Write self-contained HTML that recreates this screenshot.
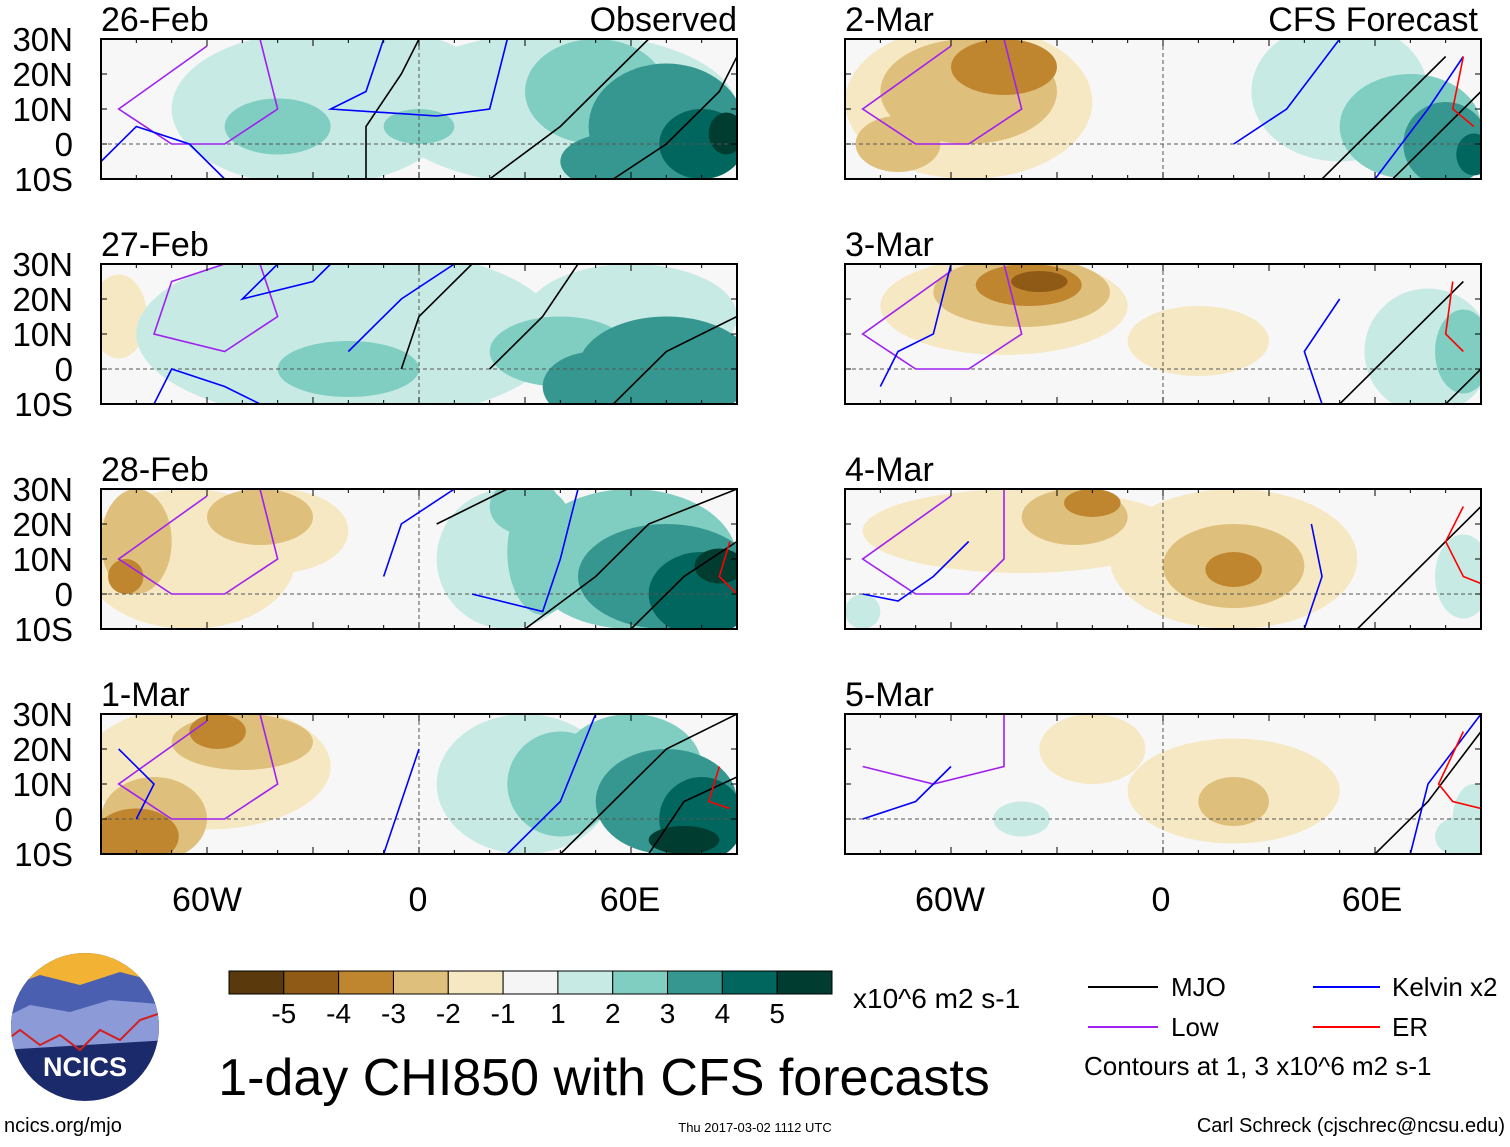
<!DOCTYPE html>
<html><head><meta charset="utf-8"><style>
body{margin:0;background:#fff;font-family:"Liberation Sans",sans-serif}
svg text{font-family:"Liberation Sans",sans-serif}
</style></head><body>
<svg id="fig" width="1510" height="1142" viewBox="0 0 1510 1142" xmlns="http://www.w3.org/2000/svg">
<g id="panels"></g>
<g id="static">
 <text x="207" y="911" font-size="34" text-anchor="middle">60W</text>
 <text x="418" y="911" font-size="34" text-anchor="middle">0</text>
 <text x="630" y="911" font-size="34" text-anchor="middle">60E</text>
 <text x="950" y="911" font-size="34" text-anchor="middle">60W</text>
 <text x="1161" y="911" font-size="34" text-anchor="middle">0</text>
 <text x="1372" y="911" font-size="34" text-anchor="middle">60E</text>
 <text x="737" y="31" font-size="34" text-anchor="end">Observed</text>
 <text x="1478" y="31" font-size="34" text-anchor="end">CFS Forecast</text>
 <g id="colorbar"></g>
 <text x="853" y="1008" font-size="28">x10^6 m2 s-1</text>
 <text x="604" y="1095" font-size="52" text-anchor="middle">1-day CHI850 with CFS forecasts</text>
 <g font-size="26">
  <line x1="1088" y1="987" x2="1158" y2="987" stroke="#000" stroke-width="2"/><text x="1171" y="996">MJO</text>
  <line x1="1313" y1="987" x2="1380" y2="987" stroke="#0000ff" stroke-width="2"/><text x="1392" y="996">Kelvin x2</text>
  <line x1="1088" y1="1027" x2="1158" y2="1027" stroke="#a020f0" stroke-width="2"/><text x="1171" y="1036">Low</text>
  <line x1="1313" y1="1027" x2="1380" y2="1027" stroke="#ff0000" stroke-width="2"/><text x="1392" y="1036">ER</text>
  <text x="1084" y="1075">Contours at 1, 3 x10^6 m2 s-1</text>
 </g>
 <text x="4" y="1132" font-size="20">ncics.org/mjo</text>
 <text x="755" y="1132" font-size="13" text-anchor="middle">Thu 2017-03-02 1112 UTC</text>
 <text x="1505" y="1132" font-size="20" text-anchor="end">Carl Schreck (cjschrec@ncsu.edu)</text>
 <g>
  <clipPath id="lc"><circle cx="85" cy="1027" r="74"/></clipPath>
  <g clip-path="url(#lc)">
   <rect x="0" y="950" width="170" height="160" fill="#1a2a6a"/>
   <rect x="0" y="950" width="170" height="40" fill="#f2b233"/>
   <path d="M0 990 L40 975 L80 985 L120 972 L170 985 L170 1010 L0 1030Z" fill="#4a5fb0"/>
   <path d="M0 1020 L30 1005 L70 1012 L110 1000 L170 1005 L170 1040 L0 1050Z" fill="#8d9ad8"/>
   <path d="M0 1045 L20 1030 L40 1045 L60 1035 L80 1050 L100 1030 L120 1040 L140 1020 L170 1010" stroke="#d02020" stroke-width="2" fill="none"/>
  </g>
  <text x="85" y="1076" font-size="27" font-weight="bold" fill="#fff" text-anchor="middle">NCICS</text>
 </g>
</g>
</svg>
<script>
const levelValues=[-5,-4,-3,-2,-1,0,1,2,3,4,5];
const levelColors=["#5a390d","#8f5a16","#c0862f","#dfbf7c","#f6e8c3","#f5f5f5","#c7eae4","#80cdc1","#35978f","#01665e","#003c30"];
const colorbarLabels=["-5","-4","-3","-2","-1","1","2","3","4","5"];
const panelDates=["26-Feb","27-Feb","28-Feb","1-Mar","2-Mar","3-Mar","4-Mar","5-Mar"];
const latTicks=["30N","20N","10N","0","10S"];
// blobs: [lon, lat, radiusLon, radiusLat, level]
const blobs0=[[-30,10,40,22,1],[40,10,50,22,1],[-10,22,25,10,1],[-40,5,15,8,2],[50,15,20,15,2],[0,5,10,5,2],[70,5,22,18,3],[55,-5,15,8,3],[80,0,12,10,4],[87,3,5,6,5]];
const blobs1=[[-85,15,8,12,-1],[-20,10,60,25,1],[60,15,30,15,1],[40,5,20,10,2],[-20,0,20,8,2],[70,0,25,15,3],[50,-5,15,10,3]];
const blobs2=[[-65,10,30,20,-1],[-40,18,20,12,-1],[-45,22,15,8,-2],[-80,15,10,15,-2],[-83,5,5,5,-3],[25,10,20,20,1],[35,12,10,18,2],[30,25,10,8,2],[60,10,30,20,2],[70,5,25,15,3],[80,0,15,12,4],[85,8,7,5,5]];
const blobs3=[[-60,15,35,18,-1],[-50,22,20,8,-2],[-75,0,15,12,-2],[-80,-5,12,8,-3],[-57,25,8,5,-3],[30,10,25,20,1],[40,10,15,15,2],[60,15,20,15,2],[70,5,20,15,3],[80,0,12,12,4],[75,-6,10,4,5]];
const blobs4=[[-55,12,35,22,-1],[-55,15,25,15,-2],[-45,22,15,8,-3],[-75,0,12,8,-2],[50,15,25,20,1],[70,5,20,15,2],[80,0,12,12,3],[88,-3,5,6,4]];
const blobs5=[[-45,18,35,14,-1],[-40,22,25,10,-2],[-38,24,15,6,-3],[-35,25,8,3,-4],[10,8,20,10,-1],[75,5,18,18,1],[85,5,8,12,2]];
const blobs6=[[-40,18,45,12,-1],[20,10,35,20,-1],[-25,22,15,8,-2],[20,8,20,12,-2],[-20,26,8,4,-3],[20,7,8,5,-3],[85,5,8,12,1],[-85,-5,5,5,1]];
const blobs7=[[-20,20,15,10,-1],[20,8,30,15,-1],[20,5,10,7,-2],[-40,0,8,5,1],[88,0,6,10,1],[85,-5,8,6,1]];
const allBlobs=[blobs0,blobs1,blobs2,blobs3,blobs4,blobs5,blobs6,blobs7];
// contour lines: [type, [[lon,lat],...]]
const lines0=[["mjo",[[-15,-10],[-15,5],[-5,20],[0,30]]],["mjo",[[20,-10],[40,5],[55,20],[65,30]]],["mjo",[[55,-10],[70,0],[85,15],[90,25]]],["low",[[-45,30],[-40,10],[-55,0],[-70,0],[-85,10],[-60,28]]],["kel",[[-90,-5],[-80,5],[-65,0],[-55,-10]]],["kel",[[-10,30],[-15,15],[-25,10],[5,8],[20,10],[25,30]]]];
const lines1=[["mjo",[[-5,0],[0,15],[15,30]]],["mjo",[[20,0],[35,15],[45,30]]],["mjo",[[55,-10],[70,5],[90,15]]],["low",[[-45,30],[-40,15],[-55,5],[-75,10],[-70,25],[-55,30]]],["kel",[[-40,30],[-50,20],[-30,25],[-25,30]]],["kel",[[-20,5],[-5,20],[10,30]]],["kel",[[-75,-10],[-70,0],[-55,-5],[-45,-10]]]];
const lines2=[["mjo",[[30,-10],[50,5],[65,20],[90,30]]],["mjo",[[60,-10],[75,5],[90,15]]],["mjo",[[5,20],[25,30]]],["low",[[-45,30],[-40,10],[-55,0],[-70,0],[-85,10],[-60,28]]],["kel",[[-10,5],[-5,20],[10,30]]],["kel",[[15,0],[35,-5],[40,10],[45,30]]],["er",[[88,15],[85,5],[90,0]]]];
const lines3=[["mjo",[[40,-10],[55,5],[70,20],[90,30]]],["mjo",[[65,-10],[75,5],[90,12]]],["low",[[-45,30],[-40,10],[-55,0],[-70,0],[-85,10],[-60,28]]],["kel",[[-10,-10],[-5,5],[0,20]]],["kel",[[25,-10],[40,5],[50,30]]],["kel",[[-85,20],[-75,10],[-80,0]]],["er",[[85,15],[82,5],[88,3]]]];
const lines4=[["mjo",[[45,-10],[60,5],[80,25]]],["mjo",[[65,-10],[80,5],[90,15]]],["low",[[-45,30],[-40,10],[-55,0],[-70,0],[-85,10],[-60,28]]],["kel",[[20,0],[35,10],[50,30]]],["kel",[[60,-10],[75,10],[85,25]]],["er",[[85,25],[82,10],[88,5]]]];
const lines5=[["mjo",[[50,-10],[65,5],[85,25]]],["mjo",[[80,-10],[90,0]]],["low",[[-45,30],[-40,10],[-55,0],[-70,0],[-85,10],[-60,28]]],["kel",[[-60,30],[-65,10],[-75,5],[-80,-5]]],["kel",[[45,-10],[40,5],[50,20]]],["er",[[82,25],[80,10],[85,5]]]];
const lines6=[["mjo",[[55,-10],[70,5],[90,25]]],["low",[[-45,30],[-45,10],[-55,0],[-70,0],[-85,10],[-60,28]]],["kel",[[-55,15],[-65,5],[-75,-2],[-85,0]]],["kel",[[40,-10],[45,5],[42,20]]],["er",[[85,25],[80,15],[85,5],[90,3]]]];
const lines7=[["mjo",[[60,-10],[75,5],[90,25]]],["low",[[-45,30],[-45,15],[-65,10],[-85,15]]],["kel",[[-60,15],[-70,5],[-85,0]]],["kel",[[70,-10],[75,10],[90,30]]],["er",[[85,25],[78,10],[82,5],[90,3]]]];
const allLines=[lines0,lines1,lines2,lines3,lines4,lines5,lines6,lines7];
const lineColors={mjo:"#000",low:"#a020f0",kel:"#0000ff",er:"#ff0000"};

const NS="http://www.w3.org/2000/svg";
function mk(t,a){const e=document.createElementNS(NS,t);for(const k in a)e.setAttribute(k,a[k]);return e;}
const root=document.getElementById("panels");
const PW=636,PH=140;
const panelX=[101,101,101,101,845,845,845,845];
const panelY=[39,264,489,714,39,264,489,714];
function xs(px){return lon=>px+(lon+90)*PW/180;}
function ys(py){return lat=>py+(30-lat)*PH/40;}
function color(v){return levelColors[levelValues.indexOf(v)];}
for(let p=0;p<8;p++){
  const X=xs(panelX[p]),Y=ys(panelY[p]);
  const g=mk("g",{});
  
  
  const cid="cp"+p;
  const cp=mk("clipPath",{id:cid});cp.appendChild(mk("rect",{x:X(-90),y:Y(30),width:PW,height:PH}));g.appendChild(cp);
  const inner=mk("g",{"clip-path":"url(#"+cid+")"});
  inner.appendChild(mk("rect",{x:X(-90),y:Y(30),width:PW,height:PH,fill:"#f7f7f7"}));
  const bl=allBlobs[p].slice().sort((a,b)=>Math.abs(a[4])-Math.abs(b[4]));
  bl.forEach(b=>{
    const e=mk("ellipse",{cx:X(b[0]),cy:Y(b[1]),rx:b[2]*PW/180,ry:b[3]*PH/40,fill:color(b[4])});
    
    
    inner.appendChild(e);
  });
  inner.appendChild(mk("line",{x1:X(-90),y1:Y(0),x2:X(90),y2:Y(0),stroke:"#555","stroke-dasharray":"4,3","stroke-width":1}));
  inner.appendChild(mk("line",{x1:X(0),y1:Y(30),x2:X(0),y2:Y(-10),stroke:"#555","stroke-dasharray":"4,3","stroke-width":1}));
  allLines[p].forEach(l=>{
    const pl=mk("polyline",{points:l[1].map(q=>X(q[0])+","+Y(q[1])).join(" "),fill:"none",stroke:lineColors[l[0]],"stroke-width":1.6});
    
    
    inner.appendChild(pl);
  });
  g.appendChild(inner);
  g.appendChild(mk("rect",{x:X(-90),y:Y(30),width:PW,height:PH,fill:"none",stroke:"#000","stroke-width":2}));
  for(let lon=-90;lon<=90;lon+=10){
    const L=(lon%30===0)?7:4;
    g.appendChild(mk("line",{x1:X(lon),y1:Y(30),x2:X(lon),y2:Y(30)+L,stroke:"#000"}));
    g.appendChild(mk("line",{x1:X(lon),y1:Y(-10),x2:X(lon),y2:Y(-10)-L,stroke:"#000"}));
  }
  for(let lat=-10;lat<=30;lat+=10){
    g.appendChild(mk("line",{x1:X(-90),y1:Y(lat),x2:X(-90)+6,y2:Y(lat),stroke:"#000"}));
    g.appendChild(mk("line",{x1:X(90),y1:Y(lat),x2:X(90)-6,y2:Y(lat),stroke:"#000"}));
  }
  const t=mk("text",{x:X(-90),y:Y(30)-8,"font-size":34});t.textContent=panelDates[p];
  
  
  g.appendChild(t);
  if(p<4){
    latTicks.forEach((s,i)=>{
      const tt=mk("text",{x:73,y:Y(30-i*10)+12,"font-size":33,"text-anchor":"end"});tt.textContent=s;
      
      
      g.appendChild(tt);
    });
  }
  root.appendChild(g);
}
// colorbar
const cb=document.getElementById("colorbar");
const cbX=229,cbW=603/11;
levelColors.forEach((c,i)=>{
  const r=mk("rect",{x:cbX+i*cbW,y:971,width:cbW,height:23,fill:c,stroke:"#000","stroke-width":1});
  
  
  cb.appendChild(r);
});
colorbarLabels.forEach((s,i)=>{
  const t=mk("text",{x:cbX+(i+1)*cbW,y:1023,"font-size":28,"text-anchor":"middle"});t.textContent=s;
  
  
  cb.appendChild(t);
});
</script>
</body></html>
